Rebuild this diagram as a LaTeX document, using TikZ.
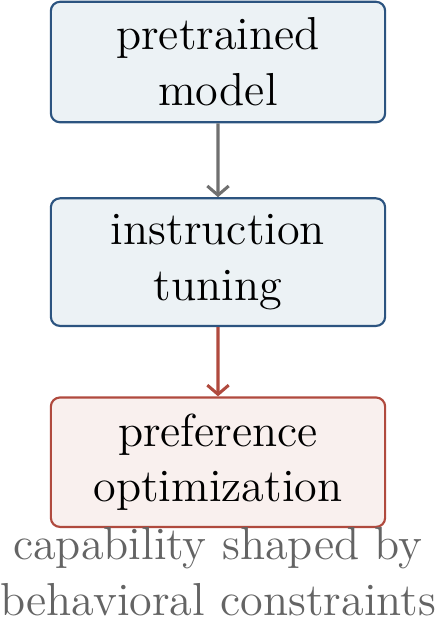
\documentclass[tikz,border=0pt]{standalone}
\usepackage{xcolor}
\usepackage{tikz}
\usetikzlibrary{arrows.meta, positioning}
\definecolor{myblue}{RGB}{44,84,128}
\definecolor{myred}{RGB}{176,74,62}
\definecolor{mygray}{RGB}{112,112,112}
\definecolor{notegray}{RGB}{100,100,100}
\definecolor{hdrblue}{RGB}{236,242,245}
\definecolor{hdrred}{RGB}{249,240,238}
\tikzset{
  stage/.style={rectangle, draw=myblue, fill=hdrblue, scale=1.05, transform shape,
    text width=3.66cm, align=center, inner xsep=0pt, inner ysep=5pt,
    font=\fontsize{14.4}{17.4}\selectfont, rounded corners=3pt, line width=0.7pt},
  redstage/.style={stage, draw=myred, fill=hdrred},
  arrow/.style={-{Straight Barb[length=3pt,width=7pt]}, line width=1pt, color=mygray},
  redarrow/.style={arrow, color=myred},
  note/.style={text width=4.9cm, align=center, inner sep=0pt, scale=1.05, transform shape,
    font=\fontsize{14.4}{17.4}\selectfont, text=notegray}
}
\begin{document}
\begin{tikzpicture}
  \useasboundingbox (-2.506,0.713) rectangle (2.506,-6.414);

  \node[stage] (pre) at (0,0) {pretrained\\model};
  \node[stage] (inst) at (0,-2.3) {instruction\\tuning};
  \node[redstage] (pref) at (0,-4.6) {preference\\optimization};
  \node[note, below=-0.5pt of pref] (cap) {capability shaped by\\behavioral constraints};

  \draw[arrow] (pre) -- (inst);
  \draw[redarrow] (inst) -- (pref);

\end{tikzpicture}
\end{document}
